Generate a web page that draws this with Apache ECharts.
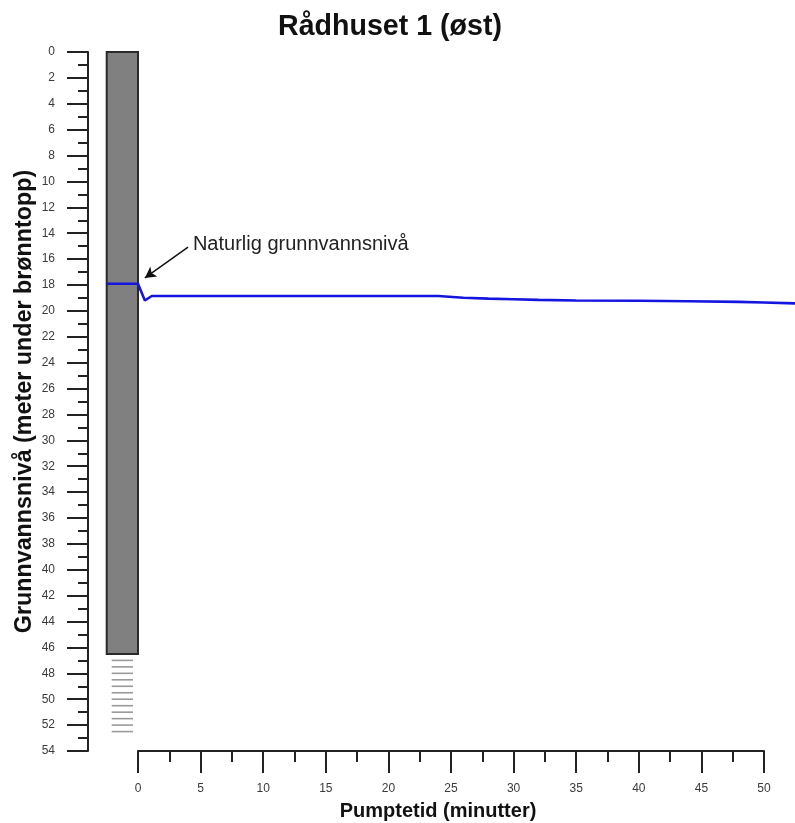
<!DOCTYPE html>
<html>
<head>
<meta charset="utf-8">
<script src="https://cdn.jsdelivr.net/npm/echarts@6/dist/echarts.min.js"></script>
<style>html,body{margin:0;padding:0;background:#fff;}#c{width:795px;height:823px;}</style>
</head>
<body>
<div id="c"></div>
<script>
// ---- data ----
const titleText = 'Rådhuset 1 (øst)';
const yAxisName = 'Grunnvannsnivå (meter under brønntopp)';
const xAxisName = 'Pumptetid (minutter)';
const annotationText = 'Naturlig grunnvannsnivå';
// pumping time (minutes) and water level (m below well top)
const times  = [-2.5, 0, 0.55, 1.1, 5, 10, 15, 20, 24, 26, 28, 30, 32, 35, 40, 44, 48, 50, 52.5];
const levels = [17.9, 17.9, 19.2, 18.85, 18.85, 18.85, 18.85, 18.85, 18.85, 18.98, 19.05, 19.1, 19.15, 19.2, 19.22, 19.25, 19.3, 19.35, 19.42];
// well casing (x-extent in minutes, depth top/bottom in m)
const wellX = [-2.5, 0];
const wellDepth = [0, 46.5];
// well screen lines (depths, m)
const screenDepths = [47, 47.5, 48, 48.5, 49, 49.5, 50, 50.5, 51, 51.5, 52, 52.5];
// annotation arrow (from, to) and label anchor
const arrowFrom = [4.0, 15.07];
const arrowTo = [0.55, 17.45];
const labelAt = [4.39, 14.85];

const FONT = '"Liberation Sans", Arial, sans-serif';
const chart = echarts.init(document.getElementById('c'), null, {renderer: 'canvas'});

const option = {
  backgroundColor: '#fff',
  animation: false,
  title: {
    text: titleText, left: 273, top: 8,
    textStyle: {fontFamily: FONT, fontSize: 28.6, fontWeight: 'bold', color: '#111'}
  },
  grid: [
    {left: 106.7, top: 52, width: 688.3, height: 699, outerBoundsMode: 'none', containLabel: false},
    {left: 138, top: 52, width: 626, height: 699, outerBoundsMode: 'none', containLabel: false}
  ],
  xAxis: [
    {gridIndex: 0, type: 'value', min: -2.5, max: 52.5, show: false},
    {gridIndex: 1, type: 'value', min: 0, max: 50, interval: 5, position: 'bottom',
     name: xAxisName, nameLocation: 'middle', nameGap: 50, nameMoveOverlap: false,
     nameTextStyle: {fontFamily: FONT, fontSize: 20, fontWeight: 'bold', color: '#111', padding: [0, 26, 0, 0]},
     axisLine: {show: true, onZero: false, lineStyle: {color: '#222', width: 2}},
     axisTick: {show: true, length: 22, lineStyle: {color: '#222', width: 2}},
     minorTick: {show: true, splitNumber: 2, length: 11, lineStyle: {color: '#222', width: 2}},
     axisLabel: {margin: 32, fontFamily: FONT, fontSize: 12, color: '#3a3a3a'},
     splitLine: {show: false}, minorSplitLine: {show: false}}
  ],
  yAxis: [
    {gridIndex: 0, type: 'value', inverse: true, min: 0, max: 54, interval: 2, position: 'left', offset: 18.7,
     name: yAxisName, nameLocation: 'middle', nameGap: 52, nameRotate: 90, nameMoveOverlap: false,
     nameTextStyle: {fontFamily: FONT, fontSize: 23.3, fontWeight: 'bold', color: '#111'},
     axisLine: {show: true, onZero: false, lineStyle: {color: '#222', width: 2}},
     axisTick: {show: true, length: 21, lineStyle: {color: '#222', width: 2}},
     minorTick: {show: true, splitNumber: 2, length: 10, lineStyle: {color: '#222', width: 2}},
     axisLabel: {margin: 33, fontFamily: FONT, fontSize: 12, color: '#3a3a3a'},
     splitLine: {show: false}, minorSplitLine: {show: false}},
    {gridIndex: 1, type: 'value', inverse: true, min: 0, max: 54, show: false}
  ],
  series: [
    {
      type: 'custom', xAxisIndex: 0, yAxisIndex: 0, z: 2,
      data: [[wellX[0], wellX[1], wellDepth[0], wellDepth[1]]],
      encode: {x: [0, 1], y: [2, 3]},
      renderItem: function (params, api) {
        const p1 = api.coord([api.value(0), api.value(2)]);
        const p2 = api.coord([api.value(1), api.value(3)]);
        return {
          type: 'rect',
          shape: {x: p1[0], y: p1[1], width: p2[0] - p1[0], height: p2[1] - p1[1]},
          style: {fill: '#808080', stroke: '#2a2a2a', lineWidth: 2}
        };
      }
    },
    {
      type: 'custom', xAxisIndex: 0, yAxisIndex: 0, z: 2,
      data: screenDepths.map(d => [wellX[0], wellX[1], d]),
      encode: {x: [0, 1], y: 2},
      renderItem: function (params, api) {
        const a = api.coord([api.value(0), api.value(2)]);
        const b = api.coord([api.value(1), api.value(2)]);
        return {
          type: 'line',
          shape: {x1: a[0] + 5, y1: a[1], x2: b[0] - 5, y2: b[1]},
          style: {stroke: '#9a9a9a', lineWidth: 1.6}
        };
      }
    },
    {
      type: 'line', xAxisIndex: 0, yAxisIndex: 0, z: 5,
      data: times.map((t, i) => [t, levels[i]]),
      showSymbol: false, symbol: 'none', smooth: false,
      lineStyle: {color: '#1515e0', width: 2.6},
      markLine: {
        silent: true, symbol: ['none', 'arrow'], symbolSize: [9, 11],
        label: {show: false},
        lineStyle: {color: '#111', width: 1.5, type: 'solid'},
        data: [[{coord: arrowFrom}, {coord: arrowTo}]]
      },
      markPoint: {
        silent: true, symbol: 'circle', symbolSize: 0,
        data: [{coord: labelAt, value: annotationText}],
        label: {show: true, position: 'right', distance: 0, formatter: annotationText,
                fontFamily: FONT, fontSize: 20, color: '#222'}
      }
    },
    {type: 'line', xAxisIndex: 1, yAxisIndex: 1, data: []}
  ]
};
chart.setOption(option);
</script>
</body>
</html>
